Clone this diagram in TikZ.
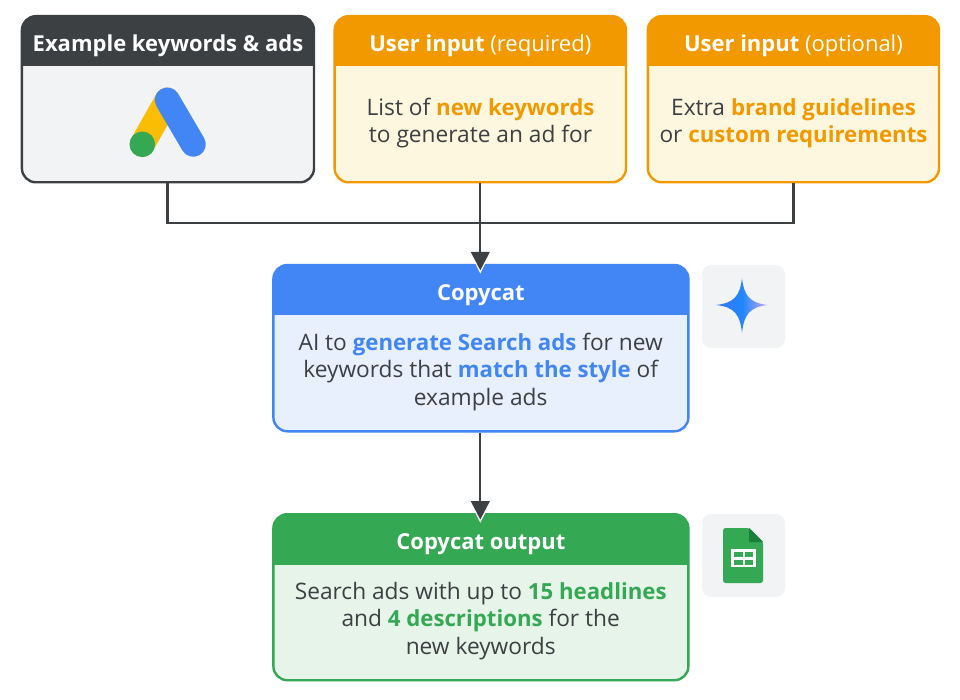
\documentclass[tikz,border=0pt]{standalone}
\usepackage{fontspec}
\usetikzlibrary{arrows.meta}
\setmainfont{Open Sans}
\definecolor{dark}{HTML}{3C4043}
\definecolor{gblue}{HTML}{4285F4}
\definecolor{ggreen}{HTML}{34A853}
\definecolor{gorange}{HTML}{F29900}
\definecolor{gyellow}{HTML}{FBBC04}
\definecolor{lgrey}{HTML}{F1F3F4}
\definecolor{lyellow}{HTML}{FEF7E0}
\definecolor{lblue}{HTML}{E8F0FE}
\definecolor{lgreen}{HTML}{E6F4EA}
\definecolor{darkgreen}{HTML}{188038}
\definecolor{gemleft}{HTML}{3B74F2}
\definecolor{gemmid}{HTML}{1F87FA}
\definecolor{gemright}{HTML}{C9AAF6}
\newcommand{\hl}[2]{\textcolor{#1}{\fontsize{22.2}{27.5}\selectfont\bfseries #2}}
\tikzset{
  x=1pt,y=-1pt,
  card/.style={draw=#1,line width=2.4pt,rounded corners=14pt,inner sep=0pt},
  headtext/.style={text=white,font=\fontsize{22}{26}\selectfont\bfseries,anchor=center,inner sep=0pt},
  bodytext/.style={text=dark,font=\fontsize{22.7}{27.5}\selectfont,align=center,anchor=center,inner sep=0pt},
  conn/.style={draw=dark,line width=2.3pt},
  flow/.style={conn,-{Triangle[width=18.7pt,length=18.5pt]},shorten >=-6.5pt},
  halo/.style={fill=white,draw=none},
  iconbg/.style={fill=lgrey,rounded corners=9pt,draw=none,inner sep=0pt},
}
\newcommand{\cardbox}[9]{% name,x1,y1,x2,y2,ybar,colour,fill,headertext
  \path[fill=#8,rounded corners=14pt] (#2,#3) rectangle (#4,#5);
  \begin{scope}
    \clip[rounded corners=14pt] (#2,#3) rectangle (#4,#5);
    \fill[#7] (#2,#3) rectangle (#4,#6);
  \end{scope}
  \node[card=#7,minimum width=#4pt-#2pt,minimum height=#5pt-#3pt] (#1) at ({(#2+#4)/2},{(#3+#5)/2}) {};
  \node[headtext] (#1head) at ({(#2+#4)/2},{(#3+#6)/2+5}) {#9};
}
\begin{document}
\begin{tikzpicture}
\useasboundingbox (0,0) rectangle (960,700);
\fill[white] (0,0) rectangle (960,700);

\coordinate (jl) at (167.5,223.3);
\coordinate (jr) at (793.6,223.3);

\cardbox{ex}{21.9}{16.2}{314}{182.3}{66}{dark}{lgrey}{Example keywords \& ads}
\cardbox{req}{334.6}{16.2}{626}{182.3}{66}{gorange}{lyellow}{User input \textmd{(required)}}
\cardbox{opt}{647.8}{16.2}{939}{182.3}{66}{gorange}{lyellow}{User input \textmd{(optional)}}
\cardbox{cc}{273.4}{265}{688.4}{431.3}{315}{gblue}{lblue}{Copycat}
\cardbox{out}{273.4}{514.2}{688.4}{680.2}{565}{ggreen}{lgreen}{Copycat output}

\node[bodytext] (reqtext) at (480.5,123) {List of \hl{gorange}{new keywords}\\to generate an ad for};
\node[bodytext] (opttext) at (793.5,123) {Extra \hl{gorange}{brand guidelines}\\or \hl{gorange}{custom requirements}};
\node[bodytext] (cctext) at (480.7,372) {AI to \hl{gblue}{generate Search ads} for new\\keywords that \hl{gblue}{match the style} of\\example ads};
\node[bodytext] (outtext) at (480.7,621) {Search ads with up to \hl{ggreen}{15 headlines}\\and \hl{ggreen}{4 descriptions} for the\\new keywords};

% Ads logo
\draw[gyellow,line width=25pt,line cap=round] (167.3,100) -- (142.3,144.3);
\draw[gblue,line width=25pt,line cap=round] (167.3,100) -- (193.3,144.3);
\fill[ggreen] (142.3,144.3) circle[radius=12.8];

% connectors
\draw[conn] (ex.south -| jl) -- (jl) -- (jr) -- (opt.south -| jr);
\fill[halo] (468.5,250) -- (492.1,250) -- (480.3,273.5) -- cycle;
\fill[halo] (468.5,499.5) -- (492.1,499.5) -- (480.3,522.8) -- cycle;
\draw[flow] (req.south) -- (req.south |- cc.north);
\draw[flow] (cc.south -| req.south) -- (req.south |- out.north);

% Gemini icon
\node[iconbg,minimum width=83pt,minimum height=83pt] (gem) at (743.5,306.5) {};
\shade[left color=gemleft,right color=gemright,middle color=gemmid]
  (742,278) .. controls (744,296) and (750,303) .. (768,305)
  .. controls (750,307) and (744,314) .. (742,333)
  .. controls (740,314) and (734,307) .. (716,305)
  .. controls (734,303) and (740,296) .. (742,278) -- cycle;

% Sheets icon
\node[iconbg,minimum width=83pt,minimum height=83pt] (sheet) at (743.5,555.5) {};
\fill[ggreen,rounded corners=2.5pt] (723,528) -- (749,528) -- (763,542) -- (763,583) -- (723,583) -- cycle;
\fill[darkgreen] (749,528) -- (763,542) -- (749,542) -- cycle;
\fill[white] (731,549) rectangle (756,567);
\fill[ggreen] (734,552) rectangle (742.5,557);
\fill[ggreen] (745,552) rectangle (753,557);
\fill[ggreen] (734,559.5) rectangle (742.5,564.5);
\fill[ggreen] (745,559.5) rectangle (753,564.5);
\end{tikzpicture}
\end{document}
